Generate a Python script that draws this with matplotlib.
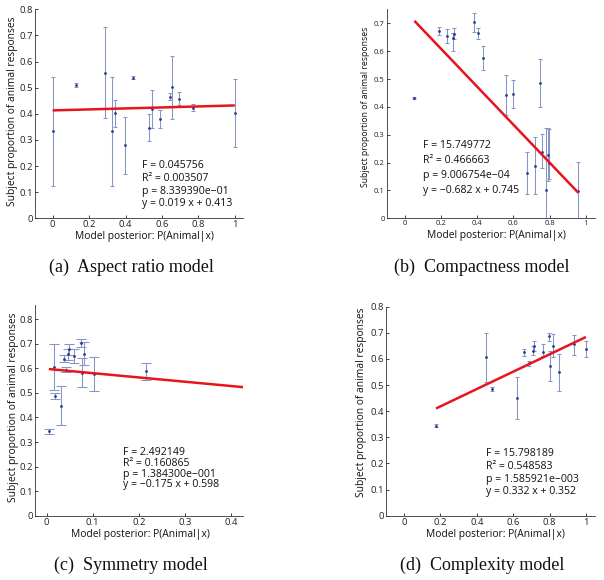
import matplotlib
matplotlib.use("Agg")
import matplotlib.pyplot as plt
from matplotlib.ticker import FuncFormatter
import numpy as np

# ---------------- data ----------------
# (a) Aspect ratio model
a_x     = [0.000, 0.128, 0.288, 0.326, 0.343, 0.396, 0.441, 0.527, 0.547, 0.591, 0.646, 0.653, 0.691, 0.770, 1.000]
a_mean  = [0.334, 0.510, 0.557, 0.334, 0.402, 0.279, 0.538, 0.347, 0.418, 0.380, 0.466, 0.501, 0.458, 0.422, 0.402]
a_lo    = [0.124, 0.504, 0.383, 0.124, 0.349, 0.171, 0.533, 0.295, 0.345, 0.346, 0.453, 0.380, 0.432, 0.410, 0.272]
a_hi    = [0.542, 0.516, 0.731, 0.542, 0.453, 0.387, 0.543, 0.399, 0.491, 0.413, 0.479, 0.621, 0.482, 0.436, 0.532]
a_stats = ["F = 0.045756", "R\u00b2 = 0.003507", "p = 8.339390e\u221201", "y = 0.019 x + 0.413"]
a_slope, a_icpt = 0.019, 0.413

# (b) Compactness model
b_x     = [0.053, 0.190, 0.232, 0.265, 0.269, 0.383, 0.405, 0.429, 0.558, 0.598, 0.744, 0.672, 0.716, 0.755, 0.779, 0.790, 0.795, 0.958]
b_mean  = [0.433, 0.672, 0.654, 0.648, 0.660, 0.704, 0.664, 0.574, 0.443, 0.447, 0.486, 0.161, 0.189, 0.237, 0.102, 0.227, 0.200, 0.098]
b_lo    = [0.429, 0.659, 0.630, 0.602, 0.642, 0.669, 0.644, 0.531, 0.372, 0.395, 0.398, 0.087, 0.088, 0.179, -0.119, 0.134, 0.140, -0.005]
b_hi    = [0.437, 0.688, 0.678, 0.665, 0.683, 0.736, 0.682, 0.617, 0.513, 0.497, 0.573, 0.237, 0.291, 0.301, 0.323, 0.323, 0.320, 0.201]
b_stats = ["F = 15.749772", "R\u00b2 = 0.466663", "p = 9.006754e\u221204", "y = \u22120.682 x + 0.745"]
b_slope, b_icpt = -0.682, 0.745

# (c) Symmetry model
c_x     = [0.005, 0.016, 0.019, 0.032, 0.037, 0.042, 0.047, 0.049, 0.060, 0.074, 0.076, 0.082, 0.103, 0.215]
c_mean  = [0.343, 0.605, 0.487, 0.448, 0.640, 0.593, 0.660, 0.678, 0.649, 0.703, 0.582, 0.660, 0.578, 0.588]
c_lo    = [0.333, 0.513, 0.476, 0.369, 0.627, 0.584, 0.636, 0.653, 0.622, 0.687, 0.524, 0.615, 0.509, 0.551]
c_hi    = [0.354, 0.698, 0.498, 0.527, 0.656, 0.605, 0.680, 0.699, 0.678, 0.718, 0.644, 0.706, 0.646, 0.622]
c_stats = ["F = 2.492149", "R\u00b2 = 0.160865", "p = 1.384300e\u2212001", "y = \u22120.175 x + 0.598"]
c_slope, c_icpt = -0.175, 0.598

# (d) Complexity model
d_x     = [0.176, 0.449, 0.484, 0.619, 0.661, 0.689, 0.709, 0.714, 0.766, 0.797, 0.802, 0.817, 0.850, 0.932, 1.000]
d_mean  = [0.344, 0.607, 0.485, 0.450, 0.625, 0.584, 0.632, 0.650, 0.628, 0.686, 0.574, 0.650, 0.551, 0.657, 0.638]
d_lo    = [0.338, 0.512, 0.477, 0.370, 0.613, 0.572, 0.616, 0.632, 0.610, 0.667, 0.514, 0.607, 0.479, 0.616, 0.607]
d_hi    = [0.350, 0.701, 0.494, 0.529, 0.638, 0.593, 0.648, 0.668, 0.657, 0.699, 0.632, 0.695, 0.619, 0.690, 0.667]
d_stats = ["F = 15.798189", "R\u00b2 = 0.548583", "p = 1.585921e\u2212003", "y = 0.332 x + 0.352"]
d_slope, d_icpt = 0.332, 0.352

captions = ["(a)  Aspect ratio model", "(b)  Compactness model",
            "(c)  Symmetry model", "(d)  Complexity model"]
xlabel_text = "Model posterior: P(Animal|x)"
ylabel_text = "Subject proportion of animal responses"

# ---------------- layout ----------------
W, H = 604, 580
plt.rcParams['font.family'] = ['Open Sans', 'DejaVu Sans']
fig = plt.figure(figsize=(W / 100, H / 100), dpi=100)

def fx(px):
    return px / W

def fy(py):
    return 1 - py / H

def make_axes(left, right, top, bottom):
    return fig.add_axes([fx(left), fy(bottom), fx(right) - fx(left), (bottom - top) / H])

fmt = FuncFormatter(lambda v, p: "%g" % round(v, 3))
ERR_C = '#8595c8'
DOT_C = '#2a3c8e'
RED = '#e8141c'

panels = [
    dict(x=a_x, m=a_mean, lo=a_lo, hi=a_hi, stats=a_stats, s=a_slope, b=a_icpt,
         box=(35, 243, 9.3, 218.3), xlim=(-0.097, 1.045), ylim=(0, 0.8),
         xt=np.arange(0, 1.01, 0.2), yt=np.arange(0, 0.81, 0.1), cap=1.3,
         tfs=6.8, yfs=7.4, line_end='data',
         txt=(141.7, [165.7, 178.3, 191.7, 203.3]),
         xl=(144, 237), yl=(13, 111.7), cap_pos=(131, 267)),
    dict(x=b_x, m=b_mean, lo=b_lo, hi=b_hi, stats=b_stats, s=b_slope, b=b_icpt,
         box=(386.7, 595, 9.4, 218.3), xlim=(-0.1, 1.05), ylim=(0, 0.75),
         xt=np.arange(0, 1.01, 0.2), yt=np.arange(0, 0.71, 0.1), cap=1.5,
         tfs=5.5, yfs=6.2, line_end='data',
         txt=(422.7, [145.7, 160.7, 175.7, 190.7]),
         xl=(496.7, 236), yl=(366, 106.7), cap_pos=(481.7, 267)),
    dict(x=c_x, m=c_mean, lo=c_lo, hi=c_hi, stats=c_stats, s=c_slope, b=c_icpt,
         box=(35, 243.3, 305, 515.7), xlim=(-0.025, 0.426), ylim=(0, 0.858),
         xt=np.arange(0, 0.41, 0.1), yt=np.arange(0, 0.81, 0.1), cap=3.6,
         tfs=6.8, yfs=7.4, line_end='axis',
         txt=(123.3, [452.3, 463.3, 474.3, 484.3]),
         xl=(140.8, 534.5), yl=(13.3, 407.5), cap_pos=(131, 565)),
    dict(x=d_x, m=d_mean, lo=d_lo, hi=d_hi, stats=d_stats, s=d_slope, b=d_icpt,
         box=(386, 595, 306.7, 515.7), xlim=(-0.099, 1.05), ylim=(0, 0.8),
         xt=np.arange(0, 1.01, 0.2), yt=np.arange(0, 0.81, 0.1), cap=1.3,
         tfs=6.8, yfs=7.4, line_end='data',
         txt=(485.7, [454, 466.7, 479.3, 491.7]),
         xl=(495, 535), yl=(361.7, 402.5), cap_pos=(482.5, 565)),
]

for P, cap_text in zip(panels, captions):
    ax = make_axes(*P['box'])
    x = np.asarray(P['x']); m = np.asarray(P['m'])
    lo = np.asarray(P['lo']); hi = np.asarray(P['hi'])
    ax.errorbar(x, m, yerr=[m - lo, hi - m], fmt='none', ecolor=ERR_C,
                elinewidth=0.75, capsize=P['cap'], capthick=0.75, zorder=2)
    ax.plot(x, m, linestyle='none', marker='o', markersize=1.0,
            color=DOT_C, zorder=3)
    if P['line_end'] == 'data':
        xs = np.array([x.min(), x.max()])
    else:
        xs = np.array([x.min(), P['xlim'][1]])
    ax.plot(xs, P['s'] * xs + P['b'], color=RED, linewidth=1.8, zorder=4,
            solid_capstyle='butt')
    ax.set_xlim(*P['xlim'])
    ax.set_ylim(*P['ylim'])
    ax.set_xticks(P['xt'])
    ax.set_yticks(P['yt'])
    ax.xaxis.set_major_formatter(fmt)
    ax.yaxis.set_major_formatter(fmt)
    ax.tick_params(direction='in', length=2.2, width=0.6, labelsize=P['tfs'],
                   pad=1.5, colors='#222222')
    for side in ('top', 'right'):
        ax.spines[side].set_visible(False)
    for side in ('left', 'bottom'):
        ax.spines[side].set_linewidth(0.6)
        ax.spines[side].set_color('#333333')
    ax.patch.set_alpha(0)

    tx, tys = P['txt']
    for line, ty in zip(P['stats'], tys):
        fig.text(fx(tx), fy(ty), line, ha='left', va='center', fontsize=7.6,
                 color='#111111')
    fig.text(fx(P['xl'][0]), fy(P['xl'][1]), xlabel_text, ha='center', va='center',
             fontsize=7.4, color='#111111')
    fig.text(fx(P['yl'][0]), fy(P['yl'][1]), ylabel_text, ha='center', va='center',
             rotation=90, fontsize=P['yfs'], color='#111111')
    fig.text(fx(P['cap_pos'][0]), fy(P['cap_pos'][1]), cap_text, ha='center',
             va='center', fontsize=13, family=['Liberation Serif', 'DejaVu Serif'],
             color='#111111')

fig.savefig("out.png", dpi=100)
